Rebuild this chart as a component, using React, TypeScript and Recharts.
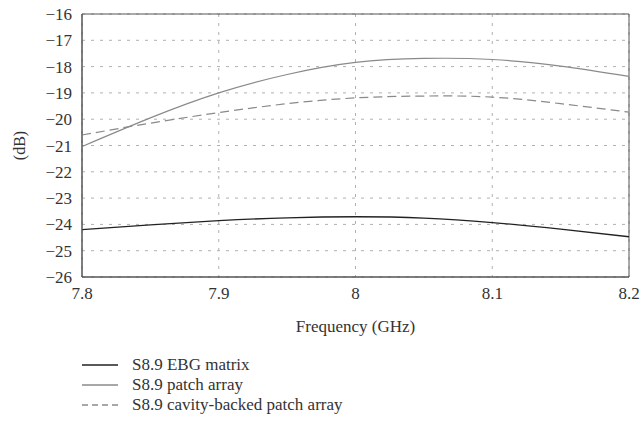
import React from "react";
import {
  LineChart,
  Line,
  XAxis,
  YAxis,
  CartesianGrid,
  ReferenceArea
} from "recharts";

const freqs = [7.8, 7.85, 7.9, 7.95, 8.0, 8.05, 8.1, 8.15, 8.2];
const ebgMatrix = [-24.2, -24.02, -23.86, -23.75, -23.71, -23.76, -23.93, -24.18, -24.47];
const patchArray = [-21.04, -19.95, -19.0, -18.3, -17.84, -17.69, -17.73, -17.98, -18.37];
const cavityBacked = [-20.6, -20.15, -19.75, -19.41, -19.19, -19.12, -19.16, -19.41, -19.73];

const xTicks = [7.8, 7.9, 8, 8.1, 8.2];
const yTicks = [-26, -25, -24, -23, -22, -21, -20, -19, -18, -17, -16];

const legendItems = [
  { name: "S8.9 EBG matrix", color: "#222", dash: "" },
  { name: "S8.9 patch array", color: "#8a8a8a", dash: "" },
  { name: "S8.9 cavity-backed patch array", color: "#8a8a8a", dash: "6 4" }
];

const font = "'Liberation Serif', 'DejaVu Serif', serif";

const data = freqs.map((f, i) => ({
  f,
  ebg: ebgMatrix[i],
  patch: patchArray[i],
  cavity: cavityBacked[i]
}));

const fmtY = (v: number) => String(v).replace("-", "\u2212");

const DbLabel = (props: any) => {
  const vb = props.viewBox || { x: 0, y: 0, width: 0, height: 0 };
  const cx = 19;
  const cy = vb.y + vb.height / 2;
  return (
    <text
      x={cx}
      y={cy}
      transform={`rotate(-90 ${cx} ${cy})`}
      textAnchor="middle"
      dominantBaseline="central"
      style={{ fontFamily: font }}
      fontSize={16}
      fill="#333"
    >
      (dB)
    </text>
  );
};

const App = () => {
  return (
    <div style={{ position: "absolute", left: 0, top: 0, width: 641, height: 423, background: "#fff", fontFamily: font }}>
      <LineChart
        width={641}
        height={423}
        data={data}
        margin={{ top: 14, right: 12, left: 0, bottom: 86 }}
        style={{ fontFamily: font }}
      >
        <CartesianGrid stroke="#b0b0b0" strokeDasharray="3 6" />
        <XAxis
          dataKey="f"
          type="number"
          domain={[7.8, 8.2]}
          ticks={xTicks}
          tickFormatter={(v: number) => String(v)}
          height={60}
          tickLine={false}
          tickMargin={4}
          axisLine={{ stroke: "#555" }}
          tick={{ fill: "#333", fontSize: 17, style: { fontFamily: font } }}
          label={{ value: "Frequency (GHz)", position: "insideBottom", offset: 5, fill: "#333", fontSize: 17, style: { fontFamily: font } }}
        />
        <YAxis
          type="number"
          domain={[-26, -16]}
          ticks={yTicks}
          width={82}
          tickLine={false}
          tickMargin={4}
          interval={0}
          tickFormatter={fmtY}
          axisLine={{ stroke: "#555" }}
          tick={{ fill: "#333", fontSize: 17, style: { fontFamily: font } }}
          label={<DbLabel />}
        />
        <Line type="natural" dataKey="cavity" stroke="#8a8a8a" strokeWidth={1.2} strokeDasharray="9 5" dot={false} isAnimationActive={false} />
        <Line type="natural" dataKey="patch" stroke="#8a8a8a" strokeWidth={1.2} dot={false} isAnimationActive={false} />
        <Line type="natural" dataKey="ebg" stroke="#222" strokeWidth={1.3} dot={false} isAnimationActive={false} />
        <ReferenceArea x1={7.8} x2={8.2} y1={-26} y2={-16} fill="none" fillOpacity={0} stroke="#555" strokeWidth={1} />
      </LineChart>
      <div style={{ position: "absolute", left: 82, top: 355, fontFamily: font, fontSize: 17, color: "#333" }}>
        {legendItems.map((it) => (
          <div key={it.name} style={{ display: "flex", alignItems: "center", height: 20 }}>
            <svg width={36} height={10} style={{ marginRight: 14 }}>
              <line x1={0} y1={5} x2={36} y2={5} stroke={it.color} strokeWidth={1.3} strokeDasharray={it.dash || undefined} />
            </svg>
            <span>{it.name}</span>
          </div>
        ))}
      </div>
    </div>
  );
};

export default App;
